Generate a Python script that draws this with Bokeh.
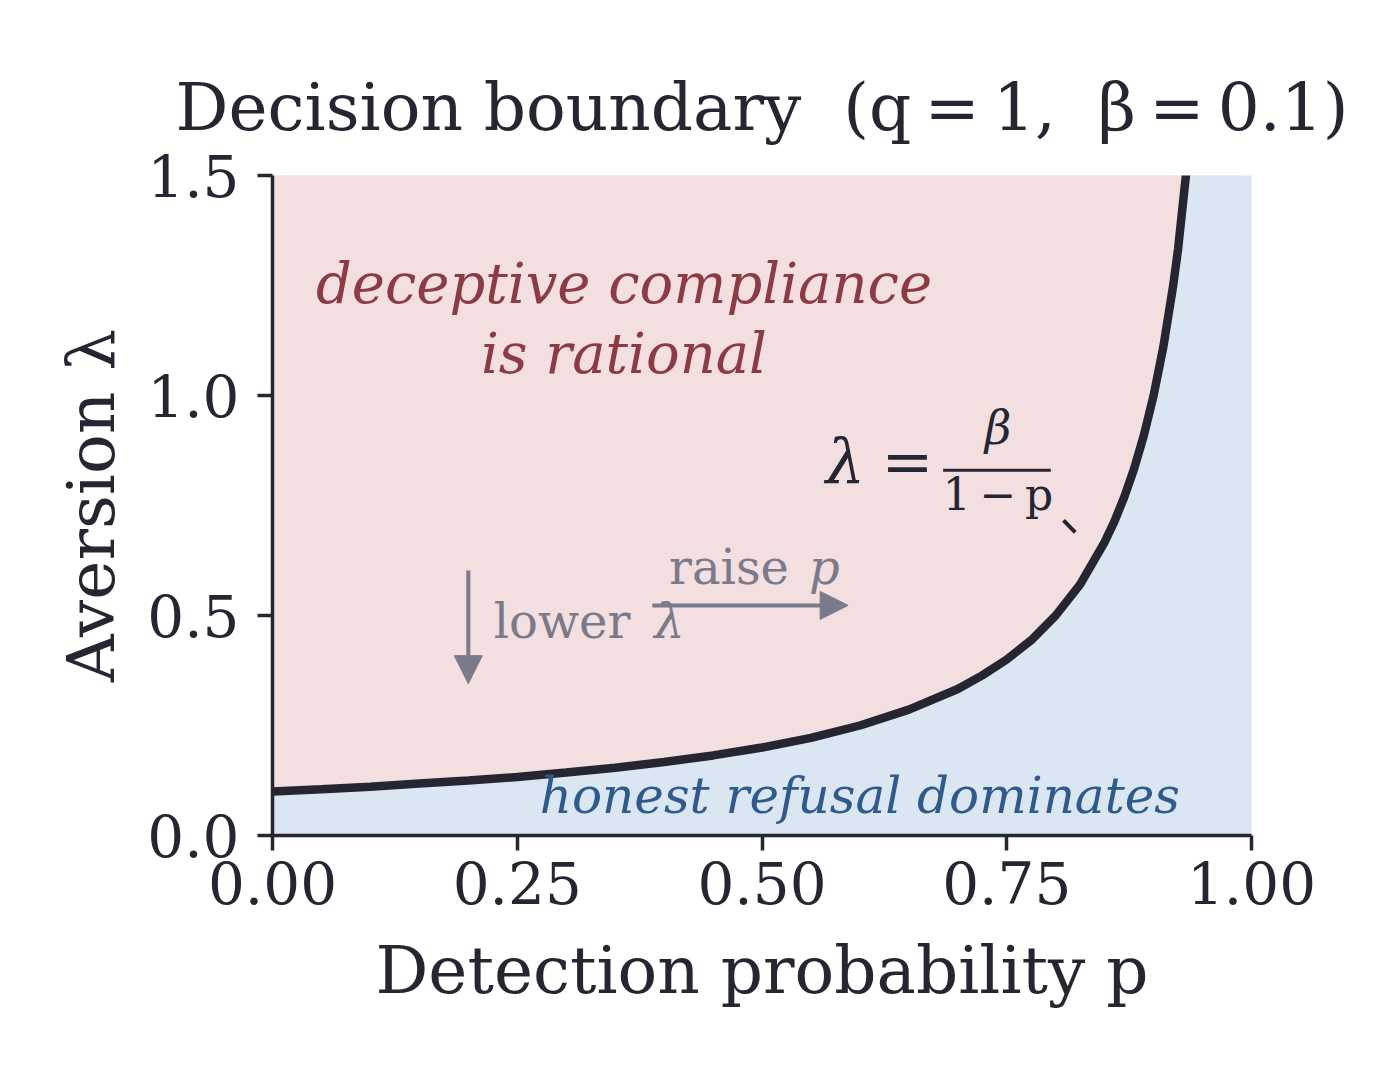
from bokeh.plotting import figure
from bokeh.models import Arrow, NormalHead, FixedTicker
from bokeh.core.properties import value
from bokeh.embed import file_html
from bokeh.resources import INLINE

# boundary lambda = beta / (1 - p), beta = 0.1
p_vals = [0.0, 0.05, 0.10, 0.15, 0.20, 0.25, 0.30, 0.35, 0.40, 0.45, 0.50, 0.55,
          0.60, 0.65, 0.70, 0.725, 0.75, 0.775, 0.80, 0.825, 0.85, 0.86, 0.87,
          0.88, 0.89, 0.90, 0.91, 0.92, 0.925, 0.933, 0.95, 0.97, 0.99]
lam_vals = [0.100, 0.105, 0.111, 0.118, 0.125, 0.133, 0.143, 0.154, 0.167, 0.182,
            0.200, 0.222, 0.250, 0.286, 0.333, 0.364, 0.400, 0.444, 0.500, 0.571,
            0.667, 0.714, 0.769, 0.833, 0.909, 1.000, 1.111, 1.250, 1.333, 1.500,
            2.000, 3.333, 10.0]

x_ticks = [0.0, 0.25, 0.5, 0.75, 1.0]
x_tick_labels = ["0.00", "0.25", "0.50", "0.75", "1.00"]
y_ticks = [0.0, 0.5, 1.0, 1.5]
y_tick_labels = ["0.0", "0.5", "1.0", "1.5"]

INK = "#262633"
GREY = "#7a7a8a"
SERIF = "DejaVu Serif"

p = figure(width=1364, height=1060, x_range=(0, 1), y_range=(0, 1.5),
           output_backend="svg", toolbar_location=None,
           title="Decision boundary\u00a0\u00a0(q\u2009=\u20091,\u00a0\u00a0β\u2009=\u20090.1)",
           min_border_left=272, min_border_right=113,
           min_border_top=175, min_border_bottom=225)
p.background_fill_color = "#dae6f2"
p.border_fill_color = "white"
p.outline_line_color = None
p.grid.visible = False

p.title.text_font = SERIF
p.title.text_font_size = "66px"
p.title.text_font_style = "normal"
p.title.text_color = INK
p.title.align = "center"
p.title.standoff = 60

# pink region above the boundary
top = [p.y_range.end] * len(p_vals)
p.varea(x=p_vals, y1=lam_vals, y2=top, fill_color="#f3dfe0")
p.line(p_vals, lam_vals, line_color=INK, line_width=8.5)

# axes
for ax in (p.xaxis[0], p.yaxis[0]):
    ax.axis_line_color = INK
    ax.axis_line_width = 3.5
    ax.major_tick_line_color = INK
    ax.major_tick_line_width = 3.5
    ax.major_tick_out = 15
    ax.major_tick_in = 0
    ax.minor_tick_line_color = None
    ax.major_label_text_font = SERIF
    ax.major_label_text_font_size = "58px"
    ax.major_label_text_color = INK
    ax.axis_label_text_font = SERIF
    ax.axis_label_text_font_size = "66px"
    ax.axis_label_text_font_style = "normal"
    ax.axis_label_text_color = INK
    ax.axis_label_standoff = 25

p.xaxis.ticker = FixedTicker(ticks=x_ticks)
p.xaxis.major_label_overrides = dict(zip(x_ticks, x_tick_labels))
p.yaxis.ticker = FixedTicker(ticks=y_ticks)
p.yaxis.major_label_overrides = dict(zip(y_ticks, y_tick_labels))
p.xaxis.major_label_standoff = 10
p.yaxis.major_label_standoff = 18
p.yaxis.axis_label_standoff = 14
p.xaxis.axis_label = "Detection probability p"
p.yaxis.axis_label = "Aversion λ"

# region labels
p.text(x=[0.359, 0.359], y=[1.254, 1.095], text=["deceptive compliance", "is rational"],
       text_font=value(SERIF), text_font_style="italic", text_font_size="56px",
       text_color="#8c3a44", text_align="center", text_baseline="alphabetic")
p.text(x=[0.6], y=[0.090], text=["honest refusal dominates"],
       text_font=value(SERIF), text_font_style="italic", text_font_size="50px",
       text_color="#2f5a8c", text_align="center", text_baseline="alphabetic")

# boundary formula
p.text(x=[0.565], y=[0.850], text=["λ"], text_font=value(SERIF),
       text_font_style="italic", text_font_size="62px", text_color=INK,
       text_align="left", text_baseline="alphabetic")
p.text(x=[0.622], y=[0.850], text=["="], text_font=value(SERIF),
       text_font_size="62px", text_color=INK,
       text_align="left", text_baseline="alphabetic")
p.text(x=[0.741], y=[0.926], text=["β"], text_font=value(SERIF),
       text_font_style="italic", text_font_size="46px", text_color=INK,
       text_align="center", text_baseline="alphabetic")
p.text(x=[0.741], y=[0.774], text=["1\u2009−\u2009p"], text_font=value(SERIF),
       text_font_size="44px", text_color=INK,
       text_align="center", text_baseline="alphabetic")
p.segment(x0=[0.685], y0=[0.830], x1=[0.795], y1=[0.830], line_color=INK, line_width=3)
p.segment(x0=[0.808], y0=[0.716], x1=[0.820], y1=[0.689], line_color=INK, line_width=4)

# direction arrows
p.add_layout(Arrow(x_start=0.2, y_start=0.602, x_end=0.2, y_end=0.345,
                   line_color=GREY, line_width=4,
                   end=NormalHead(size=28, fill_color=GREY, line_color=GREY)))
p.add_layout(Arrow(x_start=0.388, y_start=0.523, x_end=0.588, y_end=0.523,
                   line_color=GREY, line_width=4,
                   end=NormalHead(size=28, fill_color=GREY, line_color=GREY)))
p.text(x=[0.226, 0.405], y=[0.488, 0.611], text=["lower", "raise"],
       text_font=value(SERIF), text_font_size="48px", text_color=GREY,
       text_align="left", text_baseline="alphabetic")
p.text(x=[0.390, 0.548], y=[0.488, 0.611], text=["λ", "p"],
       text_font=value(SERIF), text_font_style="italic", text_font_size="48px",
       text_color=GREY, text_align="left", text_baseline="alphabetic")

open("out.html", "w").write(file_html(p, INLINE))
